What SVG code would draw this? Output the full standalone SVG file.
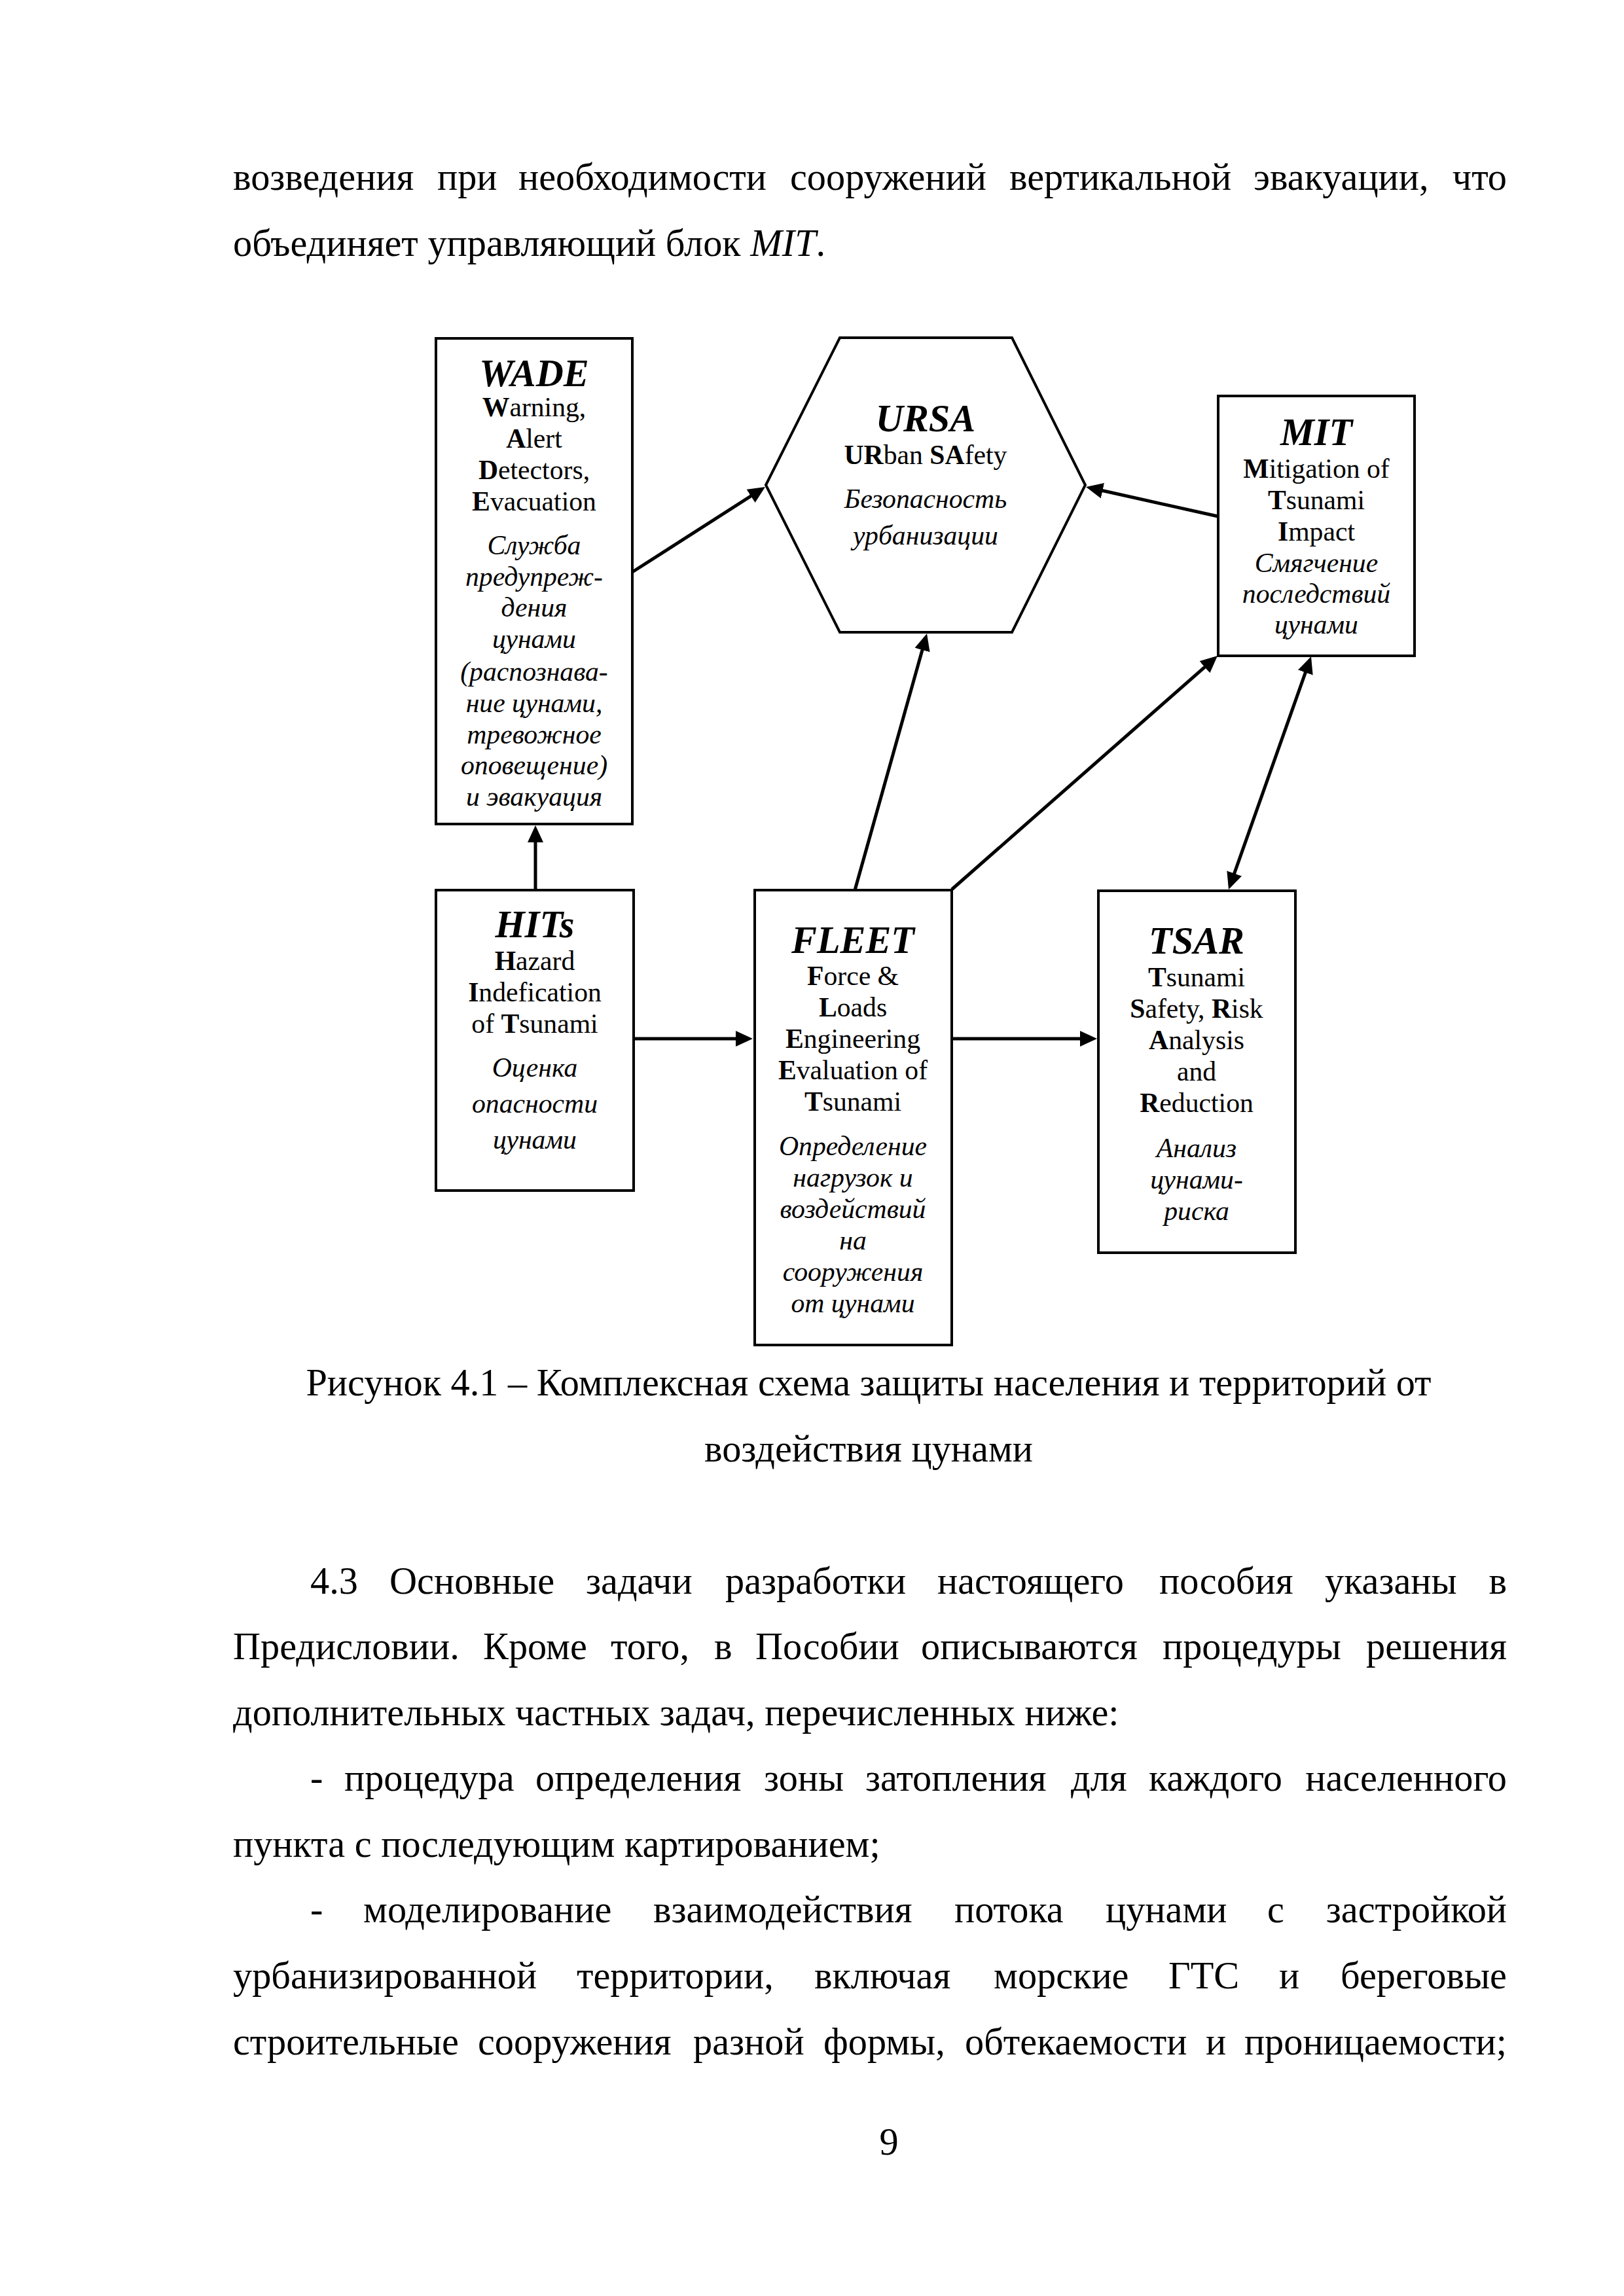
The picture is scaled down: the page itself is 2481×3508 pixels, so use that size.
<svg xmlns="http://www.w3.org/2000/svg" width="2481" height="3508" viewBox="0 0 2481 3508">
<style>
text { font-family: "Liberation Serif", "Times New Roman", serif; fill: #000; }
.body { font-size: 58.3px; }
.end { text-anchor: end; }
.mid { text-anchor: middle; }
.dg { font-size: 41.7px; text-anchor: middle; }
.ttl { font-size: 58.3px; font-weight: bold; font-style: italic; text-anchor: middle; }
.it { font-style: italic; }
.b { font-weight: bold; }
.box { fill: #fff; stroke: #000; stroke-width: 4; }
.conn { stroke: #000; stroke-width: 5; fill: none; }
</style>
<defs>
<marker id="arr" markerUnits="userSpaceOnUse" markerWidth="28" markerHeight="26" refX="20" refY="12" orient="auto-start-reverse">
<path d="M0,0 L26,12 L0,24 z" fill="#000"/>
</marker>
</defs>
<rect x="0" y="0" width="2481" height="3508" fill="#fff"/>

<g id="text-top" class="body">
<text x="356" y="290">возведения</text>
<text x="668" y="290">при</text>
<text x="792" y="290">необходимости</text>
<text x="1207" y="290">сооружений</text>
<text x="1542" y="290">вертикальной</text>
<text x="1915" y="290">эвакуации,</text>
<text x="2302" y="290" class="end">что</text>
<text x="356" y="391">объединяет управляющий блок <tspan class="it">MIT</tspan>.</text>
</g>

<g id="connectors">
<line class="conn" x1="818" y1="1360" x2="818" y2="1267" marker-end="url(#arr)"/>
<line class="conn" x1="966" y1="874" x2="1163.9" y2="747.2" marker-end="url(#arr)"/>
<line class="conn" x1="1861" y1="789" x2="1664.9" y2="745.3" marker-end="url(#arr)"/>
<line class="conn" x1="1306" y1="1360" x2="1414.4" y2="973.8" marker-end="url(#arr)"/>
<line class="conn" x1="1454" y1="1359" x2="1855.5" y2="1006" marker-end="url(#arr)"/>
<line class="conn" x1="1879" y1="1353.3" x2="2001" y2="1008.7" marker-start="url(#arr)" marker-end="url(#arr)"/>
<line class="conn" x1="968" y1="1587" x2="1144" y2="1587" marker-end="url(#arr)"/>
<line class="conn" x1="1454" y1="1587" x2="1670" y2="1587" marker-end="url(#arr)"/>
</g>

<g id="WADE">
<rect class="box" x="666" y="517" width="300" height="742"/>
<text class="ttl" x="816" y="590">WADE</text>
<text class="dg" x="816" y="636"><tspan class="b">W</tspan>arning,</text>
<text class="dg" x="816" y="684"><tspan class="b">A</tspan>lert</text>
<text class="dg" x="816" y="732"><tspan class="b">D</tspan>etectors,</text>
<text class="dg" x="816" y="780"><tspan class="b">E</tspan>vacuation</text>
<text class="dg it" x="816" y="847">Служба</text>
<text class="dg it" x="816" y="895">предупреж-</text>
<text class="dg it" x="816" y="942">дения</text>
<text class="dg it" x="816" y="990">цунами</text>
<text class="dg it" x="816" y="1040">(распознава-</text>
<text class="dg it" x="816" y="1088">ние цунами,</text>
<text class="dg it" x="816" y="1136">тревожное</text>
<text class="dg it" x="816" y="1183">оповещение)</text>
<text class="dg it" x="816" y="1231">и эвакуация</text>
</g>

<g id="URSA">
<polygon class="box" points="1283,516 1546,516 1658,741 1546,966 1283,966 1170,741"/>
<text class="ttl" x="1414" y="659">URSA</text>
<text class="dg" x="1414" y="709"><tspan class="b">UR</tspan>ban <tspan class="b">SA</tspan>fety</text>
<text class="dg it" x="1414" y="776">Безопасность</text>
<text class="dg it" x="1414" y="832">урбанизации</text>
</g>

<g id="MIT">
<rect class="box" x="1861" y="605" width="300" height="397"/>
<text class="ttl" x="2011" y="680">MIT</text>
<text class="dg" x="2011" y="730"><tspan class="b">M</tspan>itigation of</text>
<text class="dg" x="2011" y="778"><tspan class="b">T</tspan>sunami</text>
<text class="dg" x="2011" y="826"><tspan class="b">I</tspan>mpact</text>
<text class="dg it" x="2011" y="874">Смягчение</text>
<text class="dg it" x="2011" y="921">последствий</text>
<text class="dg it" x="2011" y="968">цунами</text>
</g>

<g id="HITs">
<rect class="box" x="666" y="1360" width="302" height="459"/>
<text class="ttl" x="817" y="1432">HITs</text>
<text class="dg" x="817" y="1482"><tspan class="b">H</tspan>azard</text>
<text class="dg" x="817" y="1530"><tspan class="b">I</tspan>ndefication</text>
<text class="dg" x="817" y="1578">of <tspan class="b">T</tspan>sunami</text>
<text class="dg it" x="817" y="1645">Оценка</text>
<text class="dg it" x="817" y="1700">опасности</text>
<text class="dg it" x="817" y="1755">цунами</text>
</g>

<g id="FLEET">
<rect class="box" x="1153" y="1360" width="301" height="695"/>
<text class="ttl" x="1303" y="1456">FLEET</text>
<text class="dg" x="1303" y="1505"><tspan class="b">F</tspan>orce &amp;</text>
<text class="dg" x="1303" y="1553"><tspan class="b">L</tspan>oads</text>
<text class="dg" x="1303" y="1601"><tspan class="b">E</tspan>ngineering</text>
<text class="dg" x="1303" y="1649"><tspan class="b">E</tspan>valuation of</text>
<text class="dg" x="1303" y="1697"><tspan class="b">T</tspan>sunami</text>
<text class="dg it" x="1303" y="1765">Определение</text>
<text class="dg it" x="1303" y="1813">нагрузок и</text>
<text class="dg it" x="1303" y="1861">воздействий</text>
<text class="dg it" x="1303" y="1909">на</text>
<text class="dg it" x="1303" y="1957">сооружения</text>
<text class="dg it" x="1303" y="2005">от цунами</text>
</g>

<g id="TSAR">
<rect class="box" x="1678" y="1361" width="301" height="553"/>
<text class="ttl" x="1828" y="1457">TSAR</text>
<text class="dg" x="1828" y="1507"><tspan class="b">T</tspan>sunami</text>
<text class="dg" x="1828" y="1555"><tspan class="b">S</tspan>afety, <tspan class="b">R</tspan>isk</text>
<text class="dg" x="1828" y="1603"><tspan class="b">A</tspan>nalysis</text>
<text class="dg" x="1828" y="1651">and</text>
<text class="dg" x="1828" y="1699"><tspan class="b">R</tspan>eduction</text>
<text class="dg it" x="1828" y="1768">Анализ</text>
<text class="dg it" x="1828" y="1816">цунами-</text>
<text class="dg it" x="1828" y="1864">риска</text>
</g>

<g id="caption" class="body">
<text class="mid" x="1327" y="2132">Рисунок 4.1 – Комплексная схема защиты населения и территорий от</text>
<text class="mid" x="1327" y="2233">воздействия цунами</text>
</g>

<g id="text-bottom" class="body">
<text x="474" y="2435">4.3</text>
<text x="595" y="2435">Основные</text>
<text x="895" y="2435">задачи</text>
<text x="1108" y="2435">разработки</text>
<text x="1432" y="2435">настоящего</text>
<text x="1771" y="2435">пособия</text>
<text x="2024" y="2435">указаны</text>
<text x="2302" y="2435" class="end">в</text>

<text x="356" y="2535">Предисловии.</text>
<text x="738" y="2535">Кроме</text>
<text x="933" y="2535">того,</text>
<text x="1091" y="2535">в</text>
<text x="1154" y="2535">Пособии</text>
<text x="1407" y="2535">описываются</text>
<text x="1776" y="2535">процедуры</text>
<text x="2302" y="2535" class="end">решения</text>

<text x="356" y="2636">дополнительных частных задач, перечисленных ниже:</text>

<text x="474" y="2736">-</text>
<text x="526" y="2736">процедура</text>
<text x="818" y="2736">определения</text>
<text x="1167" y="2736">зоны</text>
<text x="1322" y="2736">затопления</text>
<text x="1636" y="2736">для</text>
<text x="1755" y="2736">каждого</text>
<text x="2302" y="2736" class="end">населенного</text>

<text x="356" y="2837">пункта с последующим картированием;</text>

<text x="474" y="2937">-</text>
<text x="555" y="2937">моделирование</text>
<text x="998" y="2937">взаимодействия</text>
<text x="1458" y="2937">потока</text>
<text x="1689" y="2937">цунами</text>
<text x="1936" y="2937">с</text>
<text x="2302" y="2937" class="end">застройкой</text>

<text x="356" y="3038">урбанизированной</text>
<text x="881" y="3038">территории,</text>
<text x="1244" y="3038">включая</text>
<text x="1518" y="3038">морские</text>
<text x="1785" y="3038">ГТС</text>
<text x="1954" y="3038">и</text>
<text x="2302" y="3038" class="end">береговые</text>

<text x="356" y="3139">строительные</text>
<text x="730" y="3139">сооружения</text>
<text x="1059" y="3139">разной</text>
<text x="1258" y="3139">формы,</text>
<text x="1474" y="3139">обтекаемости</text>
<text x="1842" y="3139">и</text>
<text x="2302" y="3139" class="end">проницаемости;</text>

<text class="mid" x="1358" y="3292">9</text>
</g>
</svg>
